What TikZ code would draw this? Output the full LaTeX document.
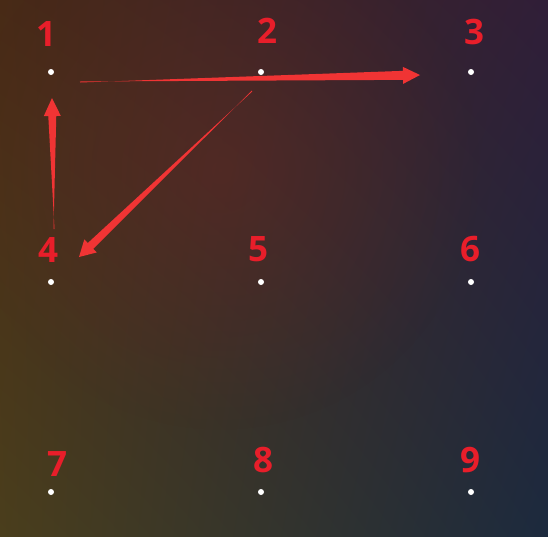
\documentclass[tikz,border=0pt]{standalone}
\usepackage{fontspec}
\setmainfont{Open Sans}
\usetikzlibrary{calc,shadings,fadings}
\tikzfading[name=softcentre, inner color=transparent!0, outer color=transparent!100]
\definecolor{numred}{RGB}{232,30,42}
\definecolor{arrred}{RGB}{240,52,52}
\definecolor{bgul}{RGB}{72,42,22}
\definecolor{bgur}{RGB}{48,30,56}
\definecolor{bgll}{RGB}{74,62,28}
\definecolor{bglr}{RGB}{28,42,62}
\definecolor{warm}{RGB}{110,40,35}
\tikzset{
  dot/.style={circle,fill=white,inner sep=0pt,minimum size=6pt},
  num/.style={text=numred,font=\fontsize{35}{35}\selectfont\bfseries,inner sep=0pt},
  taper/.style={fill=arrred}
}
% #1 from, #2 to, #3 shaft half width, #4 head half width, #5 head length
\newcommand\taperarrow[5]{%
  \coordinate (tbase) at ($(#2)!#5!(#1)$);
  \fill[taper] ($(#1)!0.5pt!90:(#2)$) -- ($(tbase)!#3!-90:(#2)$) -- ($(tbase)!#4!-90:(#2)$)
    -- (#2) -- ($(tbase)!#4!90:(#2)$) -- ($(tbase)!#3!90:(#2)$) -- ($(#1)!0.5pt!-90:(#2)$) -- cycle;
}
\begin{document}
\begin{tikzpicture}[x=1pt,y=-1pt]
\useasboundingbox (0,0) rectangle (548,536);
\shade[upper left=bgul,upper right=bgur,lower left=bgll,lower right=bglr] (0,0) rectangle (548,536);
\fill[warm,path fading=softcentre,opacity=0.4] (220,170) circle (260pt);
% dots
\foreach \n/\x/\y in {1/51/72,2/261/72,3/471/72,4/51/282,5/261/282,6/471/282,7/51/492,8/261/492,9/471/492}{
  \node[dot] (d\n) at (\x,\y) {};
}
% labels
\node[num] (l1) at (46,34) {1};
\node[num] (l2) at (267,31) {2};
\node[num] (l3) at (474,32) {3};
\node[num] (l4) at (48,250) {4};
\node[num] (l5) at (258,249) {5};
\node[num] (l6) at (470,249) {6};
\node[num] (l7) at (57,464) {7};
\node[num] (l8) at (263,460) {8};
\node[num] (l9) at (470,460) {9};
% arrow end points
\coordinate (a1s) at (80,82);
\coordinate (a1e) at (420,75);
\coordinate (a2s) at (252,91);
\coordinate (a2e) at (79,257);
\coordinate (a3s) at (54,229);
\coordinate (a3e) at (52,98);
\taperarrow{a3s}{a3e}{4pt}{8.5pt}{18pt}
\taperarrow{a1s}{a1e}{4.5pt}{8.5pt}{17pt}
\taperarrow{a2s}{a2e}{4pt}{9pt}{16pt}
\end{tikzpicture}
\end{document}
